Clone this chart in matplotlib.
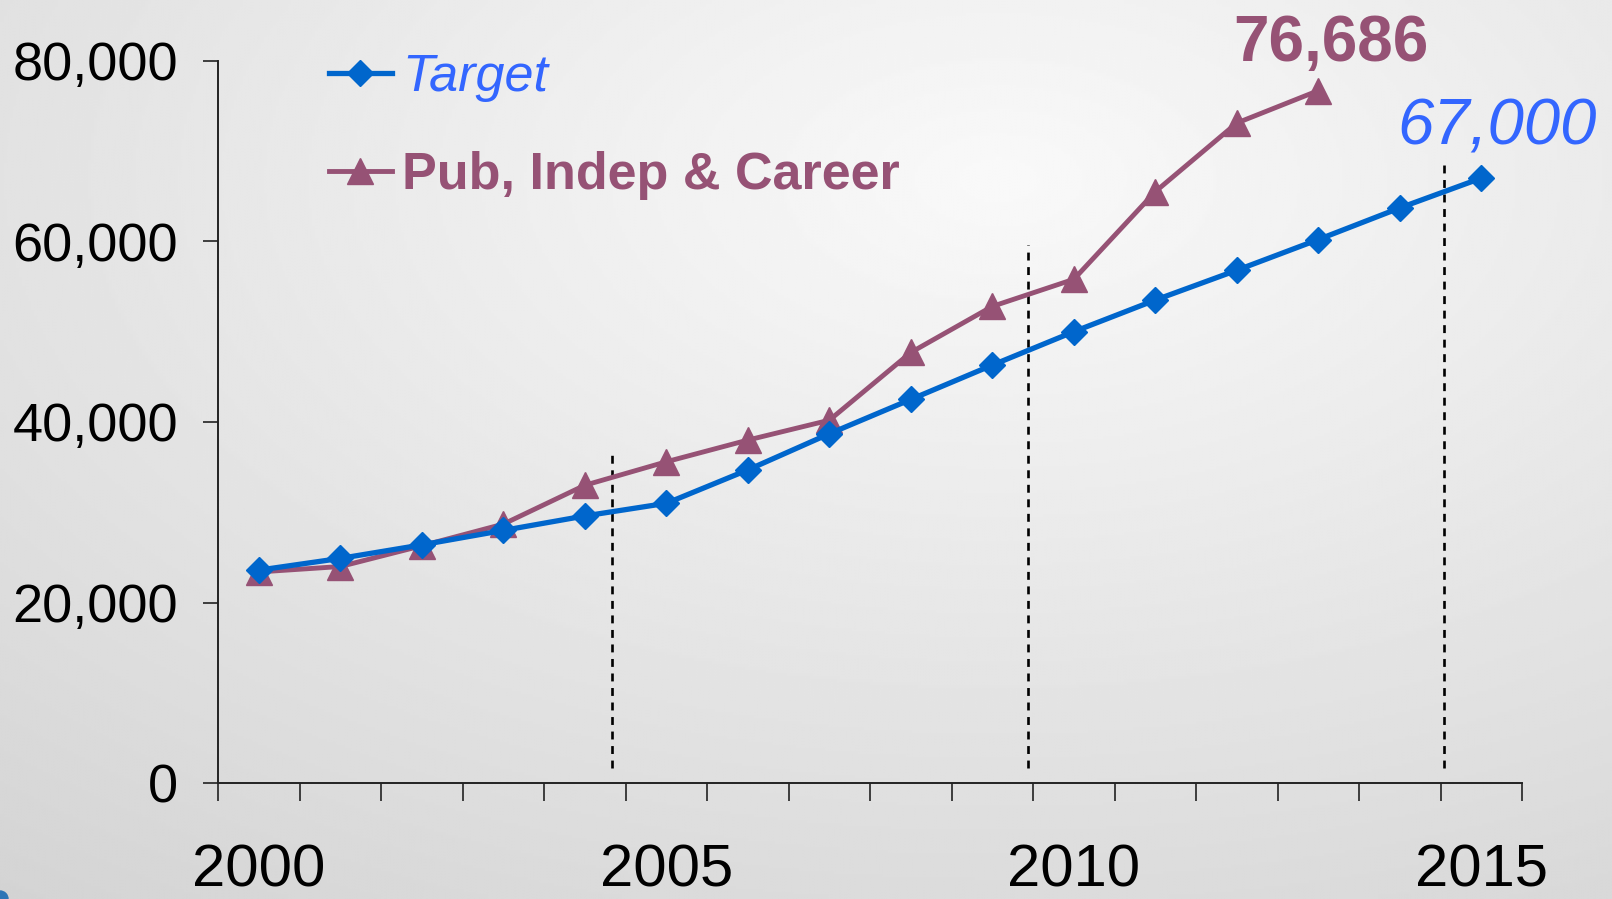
import numpy as np
import matplotlib
matplotlib.use("Agg")
import matplotlib.pyplot as plt
from matplotlib.patches import Ellipse

# ---- data ----
years = list(range(2000, 2016))
target = [23600, 24900, 26400, 28000, 29600, 31000, 34700, 38700,
          42500, 46300, 50000, 53500, 56800, 60200, 63700, 67000]
pub_years = list(range(2000, 2014))
pub = [23400, 24000, 26300, 28700, 33000, 35600, 38000, 40200,
       47700, 52800, 55800, 65500, 73100, 76686]
y_ticks = [0, 20000, 40000, 60000, 80000]
x_label_years = [2000, 2005, 2010, 2015]
divider_x = [2004.33, 2009.44, 2014.54]
divider_top = [36600, 59600, 68500]
divider_bottom = 1700

BLUE = "#0066CC"
BLUE_TXT = "#3366FF"
MAUVE = "#965275"

plt.rcParams['font.family'] = ['Liberation Sans', 'DejaVu Sans']

W, H = 1612, 899
fig = plt.figure(figsize=(W / 100, H / 100), dpi=100)

# background radial gradient
bg = fig.add_axes([0, 0, 1, 1], zorder=-10)
yy, xx = np.mgrid[0:1:300j, 0:1:540j]
d = np.sqrt(((xx - 0.62) * 1.0) ** 2 + ((yy - 0.2) * 1.0) ** 2)
img = np.clip(249 - 37 * d, 200, 250) / 255.0
bg.imshow(img, cmap='gray', vmin=0, vmax=1, extent=[0, 1, 1, 0], aspect='auto',
          interpolation='bilinear')
bg.set_xlim(0, 1); bg.set_ylim(1, 0)
bg.axis('off')
bg.add_patch(Ellipse((0, 0), 2 * 8 / W, 2 * 8 / H, transform=fig.transFigure,
                     color="#2E75B6", clip_on=False))

left = 218.2 / W
right = 1522 / W
bottom = 1 - 783.3 / H
top = 1 - 60.7 / H
ax = fig.add_axes([left, bottom, right - left, top - bottom], zorder=1)
ax.set_facecolor('none')

ax.plot(years, target, color=BLUE, lw=3.8, marker='D', ms=13.5, mec=BLUE,
        mfc=BLUE, mew=1, label='Target', zorder=4)
ax.plot(pub_years, pub, color=MAUVE, lw=3.5, marker='^', ms=18.5, mec=MAUVE,
        mfc=MAUVE, mew=1, label='Pub, Indep & Career', zorder=3)

for x, t in zip(divider_x, divider_top):
    ax.vlines(x, divider_bottom, t, colors='black', lw=1.9,
              linestyles=(0, (3.0, 2.5)), zorder=2)

ax.set_xlim(years[0] - 0.5, years[-1] + 0.5)
ax.set_ylim(0, 80000)

ax.set_yticks(y_ticks)
ax.set_yticklabels([f"{v:,}" for v in y_ticks])
ax.set_xticks(x_label_years)
ax.set_xticklabels([str(v) for v in x_label_years])
ax.set_xticks(np.arange(years[0] - 0.5, years[-1] + 1.0, 1.0), minor=True)

ax.tick_params(axis='y', which='major', direction='out', length=11, width=1.2,
               colors='#222222', labelsize=39, pad=18, labelcolor='black')
ax.tick_params(axis='x', which='major', length=0, labelsize=43, pad=43,
               labelcolor='black')
ax.tick_params(axis='x', which='minor', direction='out', length=13, width=1.2,
               colors='#222222')

for s in ['top', 'right']:
    ax.spines[s].set_visible(False)
for s in ['left', 'bottom']:
    ax.spines[s].set_color('#222222')
    ax.spines[s].set_linewidth(1.4)

leg = ax.legend(loc='upper left', bbox_to_anchor=(329 / W, 1 - 53 / H),
                bbox_transform=fig.transFigure, frameon=False, fontsize=37.5,
                handlelength=1.2, handletextpad=0.2, labelspacing=0.95,
                borderaxespad=0, borderpad=0)
t1, t2 = leg.get_texts()
t1.set_color(BLUE_TXT); t1.set_style('italic')
t2.set_color(MAUVE); t2.set_weight('bold')

ax.annotate(f"{pub[-1]:,}", xy=(pub_years[-1], pub[-1]), xytext=(9, 33.5),
            textcoords='offset points', ha='center', va='center',
            fontsize=46, fontweight='bold', color=MAUVE)
ax.annotate(f"{target[-1]:,}", xy=(years[-1], target[-1]), xytext=(11, 36.5),
            textcoords='offset points', ha='center', va='center',
            fontsize=47, fontstyle='italic', color=BLUE_TXT)

fig.savefig("out.png", dpi=100)
